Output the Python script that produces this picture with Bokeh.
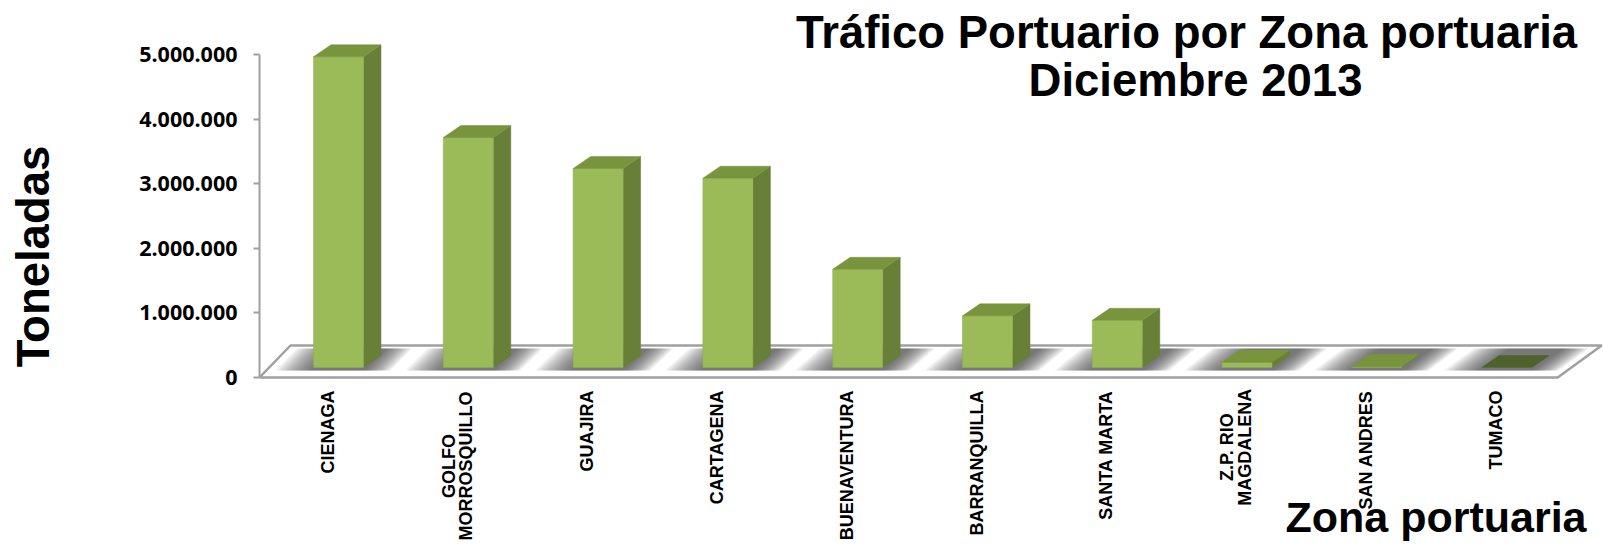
import math
from bokeh.plotting import figure
from bokeh.layouts import row
from bokeh.models import Range1d, FixedTicker, Label, ColumnDataSource
from bokeh.embed import file_html
from bokeh.resources import INLINE
from bokeh.core.properties import value

# ---------------- data ----------------
categories = ["CIENAGA", "GOLFO\nMORROSQUILLO", "GUAJIRA", "CARTAGENA", "BUENAVENTURA",
              "BARRANQUILLA", "SANTA MARTA", "Z.P. RIO\nMAGDALENA", "SAN ANDRES", "TUMACO"]
toneladas = [4810000, 3560000, 3080000, 2930000, 1520000, 800000, 730000, 80000, 15000, 0]
ytick_values = [0, 1000000, 2000000, 3000000, 4000000, 5000000]
ytick_labels = ["0", "1.000.000", "2.000.000", "3.000.000", "4.000.000", "5.000.000"]
title_lines = ["Tráfico Portuario por Zona portuaria", "Diciembre 2013"]
y_title = "Toneladas"
x_title = "Zona portuaria"

# ---------------- geometry (pixel helpers) ----------------
W, H = 1604, 546
LEFT_W = 70              # narrow panel holding the y title
FRAME_LEFT = 259
PXX = 1 / 129.8          # x data units per pixel
PXY = 1e6 / 64.6         # y data units per pixel
X0 = (FRAME_LEFT - 327) * PXX
X1 = X0 + (W - FRAME_LEFT) * PXX
Y1 = 377 * PXY
Y0 = (377 - H) * PXY

def X(px):
    return (px - 327) * PXX

def Y(py):
    return (377 - py) * PXY

n = len(categories)

# ---------------- left panel with the y title ----------------
pl = figure(width=LEFT_W, height=H, output_backend="svg", toolbar_location=None,
            x_range=Range1d(0, LEFT_W), y_range=Range1d(0, H),
            x_axis_location=None, y_axis_location=None, min_border=0)
pl.outline_line_color = None
pl.grid.visible = False
pl.add_layout(Label(x=33, y=H - 256, text=y_title, angle=math.pi / 2,
                    text_align="center", text_baseline="middle",
                    text_font="Liberation Sans", text_font_style="bold",
                    text_font_size="45.5px", text_color="black"))

# ---------------- main chart ----------------
p = figure(width=W - LEFT_W, height=H, output_backend="svg", toolbar_location=None,
           x_range=Range1d(X0, X1), y_range=Range1d(Y0, Y1), x_axis_location=None,
           min_border_left=FRAME_LEFT - LEFT_W, min_border_right=0,
           min_border_top=0, min_border_bottom=0)
p.outline_line_color = None
p.grid.visible = False
p.background_fill_color = "white"

# floor
floor_back = 32 * PXY
fl_right_front = (n - 1) + 62 * PXX
floor_xs = [X0, fl_right_front, fl_right_front + 44 * PXX, X0 + 31 * PXX]
floor_ys = [0, 0, floor_back, floor_back]
p.patch(floor_xs, floor_ys, fill_color="white", line_color="#A0A0A0", line_width=2.5)

# soft shadows on the floor
xs_sh, ys_sh = [], []
nlay = 16
for i in range(n):
    s = (31 + 13 * (i / (n - 1))) / 32.0
    ya, yb = 7 * PXY, 29 * PXY
    shift = s * 22 * PXX
    xl = i - 14 * PXX
    xr = i + 36 * PXX
    for k in range(nlay):
        f = (k + 1) / nlay
        L = 38 * f * PXX
        R = 27 * f * PXX
        xs_sh.append([xl - L, xr + R, xr + R + shift, xl - L + shift])
        ys_sh.append([ya, ya, yb, yb])
p.patches(xs_sh, ys_sh, fill_color="#404040", fill_alpha=0.065, line_color=None)

# bars (3D look)
base = 10 * PXY
ddx = 17.5 * PXX
ddy = 12 * PXY
lefts = [i - 14 * PXX for i in range(n)]
rights = [i + 36 * PXX for i in range(n)]
tops = [base + v for v in toneladas]
bottoms = [base] * n
src = ColumnDataSource(dict(left=lefts, right=rights, top=tops, bottom=bottoms))

side_xs, side_ys, top_xs, top_ys, top_cols = [], [], [], [], []
for i in range(n):
    xl, xr, yt, yb = lefts[i], rights[i], tops[i], bottoms[i]
    side_xs.append([xr, xr + ddx, xr + ddx, xr])
    side_ys.append([yb, yb + ddy, yt + ddy, yt])
    top_xs.append([xl, xr, xr + ddx, xl + ddx])
    top_ys.append([yt, yt, yt + ddy, yt + ddy])
    top_cols.append("#4F612C" if toneladas[i] <= 0 else "#78943D")

p.patches(side_xs, side_ys, fill_color="#687F37", line_color="#687F37", line_width=0.5)
p.quad(left="left", right="right", top="top", bottom="bottom", source=src,
       fill_color="#9BBB59", line_color="#8EAD4F", line_width=0.5)
p.patches(top_xs, top_ys, fill_color=top_cols, line_color=top_cols, line_width=0.5)

# category labels (vertical, below the floor)
LBL_TOP = 390
CHAR_PX = 12.6
single = dict(x=[], y=[], text=[])
multi = dict(x=[], y=[], text=[])
for i, lab in enumerate(categories):
    if "\n" in lab:
        longest = max(len(t) for t in lab.split("\n"))
        multi["x"].append(i)
        multi["y"].append(Y(LBL_TOP + longest * CHAR_PX / 2))
        multi["text"].append(lab)
    else:
        single["x"].append(i)
        single["y"].append(Y(LBL_TOP))
        single["text"].append(lab)

lab_style = dict(angle=math.pi / 2, text_baseline="middle", text_font=value("Liberation Sans"),
                 text_font_style="bold", text_font_size="18px", text_color="black",
                 text_line_height=0.88)
p.text(x="x", y="y", text="text", source=ColumnDataSource(single), text_align="right", **lab_style)
p.text(x="x", y="y", text="text", source=ColumnDataSource(multi), text_align="center", **lab_style)

# y axis
ya_ = p.yaxis[0]
ya_.ticker = FixedTicker(ticks=ytick_values)
ya_.major_label_overrides = {v: l for v, l in zip(ytick_values, ytick_labels)}
ya_.bounds = (ytick_values[0], ytick_values[-1])
ya_.axis_line_color = "#A0A0A0"
ya_.axis_line_width = 2
ya_.major_tick_line_color = "#A0A0A0"
ya_.major_tick_line_width = 2
ya_.major_tick_out = 6
ya_.major_tick_in = 0
ya_.minor_tick_line_color = None
ya_.major_label_standoff = 16
ya_.major_label_text_font = "Open Sans"
ya_.major_label_text_font_style = "bold"
ya_.major_label_text_font_size = "21.5px"
ya_.major_label_text_color = "black"

# chart title and x title
p.add_layout(Label(x=X(1186), y=Y(32), text=title_lines[0], text_align="center",
                   text_baseline="alphabetic", text_font="Liberation Sans",
                   text_font_style="bold", text_font_size="45.5px", text_color="black"))
p.add_layout(Label(x=X(1195), y=Y(80), text=title_lines[1], text_align="center",
                   text_baseline="alphabetic", text_font="Liberation Sans",
                   text_font_style="bold", text_font_size="45.5px", text_color="black"))
p.add_layout(Label(x=X(1586), y=Y(516), text=x_title, text_align="right",
                   text_baseline="alphabetic", text_font="Liberation Sans",
                   text_font_style="bold", text_font_size="43px", text_color="black"))

layout = row(pl, p, spacing=0)
open("out.html", "w").write(file_html(layout, INLINE))
